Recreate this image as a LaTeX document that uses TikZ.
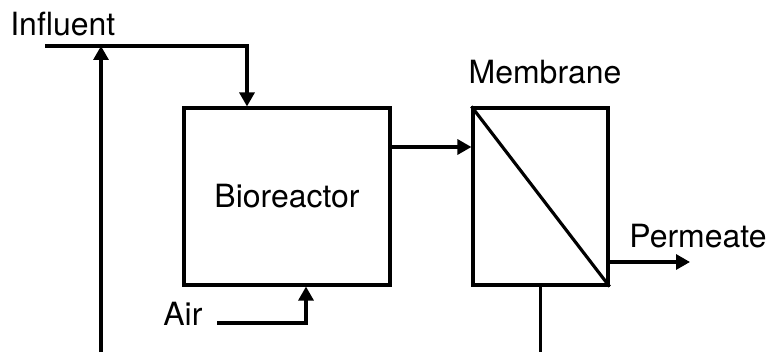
\documentclass[tikz,border=0pt]{standalone}
\usepackage{fontspec}
\setmainfont{TeX Gyre Heros}
\usepackage{tikz}
\usetikzlibrary{arrows.meta, positioning, calc}
\tikzset{
  unit/.style={rectangle, draw, line width=1.8pt, minimum height=3.54cm,
               align=center, inner sep=0pt, font=\fontsize{18.2}{20}\selectfont},
  lbl/.style={inner sep=0pt, font=\fontsize{18.2}{20}\selectfont},
  pipe/.style={line width=1.8pt},
  arr/.style={pipe, -{Triangle[length=0.28cm, width=0.3cm]}},
}

\begin{document}
\begin{tikzpicture}[x=0.02cm, y=-0.02cm]
  \useasboundingbox (0,0) rectangle (770,352);

  \node[unit, minimum width=4.12cm] (bio) at (287,196.5) {Bioreactor};
  \node[unit, minimum width=2.7cm] (mem) at (540.5,196.5) {};
  \draw[pipe] (mem.north west) -- (mem.south east);

  \node[lbl, anchor=base west] (influent) at (10,35) {Influent};
  \node[lbl, anchor=base] (memlbl) at (545,83) {Membrane};
  \node[lbl, anchor=base west] (permeate) at (629,247) {Permeate};
  \node[lbl, anchor=base west] (air) at (163,325) {Air};

  \coordinate (instart) at (45,46);
  \coordinate (injoin) at (247,46);
  \coordinate (recycle) at (101,352);
  \coordinate (feed) at (390,147);
  \coordinate (permend) at (690,262);
  \coordinate (airstart) at (217,323);
  \coordinate (airbend) at (306,323);

  % influent and recycle
  \draw[arr] (instart) -- (injoin) -- (injoin |- bio.north);
  \draw[arr] (recycle) -- (recycle |- instart);

  % bioreactor to membrane
  \draw[arr] (bio.east |- feed) -- (mem.west |- feed);
  \draw[arr] (mem.east |- permend) -- (permend);
  \draw[pipe] (mem.south) -- (mem.south |- recycle);

  % aeration
  \draw[arr] (airstart) -- (airbend) -- (airbend |- bio.south);
\end{tikzpicture}
\end{document}
